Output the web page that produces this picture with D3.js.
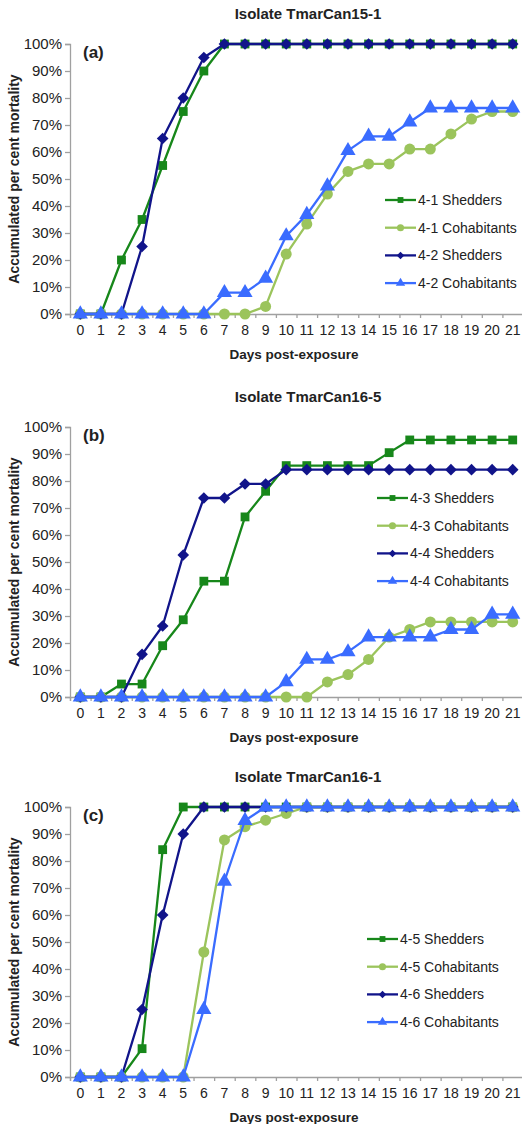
<!DOCTYPE html>
<html>
<head>
<meta charset="utf-8">
<script src="https://cdn.jsdelivr.net/npm/d3@7"></script>
<style>
  body { margin: 0; background: #fff; }
  text { font-family: "Liberation Sans", Arial, sans-serif; fill: #222; }
</style>
</head>
<body>
<div id="chart"></div>
<script>
// Days on the x axis (categories)
const days = ["0","1","2","3","4","5","6","7","8","9","10","11","12","13","14","15","16","17","18","19","20","21"];
const yTicks = [0, 10, 20, 30, 40, 50, 60, 70, 80, 90, 100];

const panelTitles = ["Isolate TmarCan15-1", "Isolate TmarCan16-5", "Isolate TmarCan16-1"];
const panelLetters = ["(a)", "(b)", "(c)"];

// Panel (a)
const namesA = ["4-1 Shedders", "4-1 Cohabitants", "4-2 Shedders", "4-2 Cohabitants"];
const shed41 = [0,0,20,35,55,75,90,100,100,100,100,100,100,100,100,100,100,100,100,100,100,100];
const cohab41 = [0,0,0,0,0,0,0,0,0,2.8,22.2,33.3,44.4,52.8,55.6,55.6,61.1,61.1,66.7,72.2,75,75];
const shed42 = [0,0,0,25,65,80,95,100,100,100,100,100,100,100,100,100,100,100,100,100,100,100];
const cohab42 = [0,0,0,0,0,0,0,7.9,7.9,13.2,28.9,36.8,47.4,60.5,65.8,65.8,71.1,76.3,76.3,76.3,76.3,76.3];

// Panel (b)
const namesB = ["4-3 Shedders", "4-3 Cohabitants", "4-4 Shedders", "4-4 Cohabitants"];
const shed43 = [0,0,4.8,4.8,19,28.6,42.9,42.9,66.7,76.2,85.7,85.7,85.7,85.7,85.7,90.5,95.2,95.2,95.2,95.2,95.2,95.2];
const cohab43 = [0,0,0,0,0,0,0,0,0,0,0,0,5.6,8.3,13.9,22.2,25,27.8,27.8,27.8,27.8,27.8];
const shed44 = [0,0,0,15.8,26.3,52.6,73.7,73.7,78.9,78.9,84.2,84.2,84.2,84.2,84.2,84.2,84.2,84.2,84.2,84.2,84.2,84.2];
const cohab44 = [0,0,0,0,0,0,0,0,0,0,5.6,13.9,13.9,16.7,22.2,22.2,22.2,22.2,25,25,30.6,30.6];

// Panel (c)
const namesC = ["4-5 Shedders", "4-5 Cohabitants", "4-6 Shedders", "4-6 Cohabitants"];
const shed45 = [0,0,0,10.5,84.2,100,100,100,100,100,100,100,100,100,100,100,100,100,100,100,100,100];
const cohab45 = [0,0,0,0,0,0,46.3,87.8,92.7,95.1,97.6,100,100,100,100,100,100,100,100,100,100,100];
const shed46 = [0,0,0,25,60,90,100,100,100,100,100,100,100,100,100,100,100,100,100,100,100,100];
const cohab46 = [0,0,0,0,0,0,25,72.5,95,100,100,100,100,100,100,100,100,100,100,100,100,100];

// Styles for the four series (same in every panel)
const seriesStyle = [
  { color: "#17871a", symbol: d3.symbolSquare, size: 78, rotate: 0, legendSize: 34 },
  { color: "#9bc45c", symbol: d3.symbolCircle, size: 95, rotate: 0, legendSize: 40 },
  { color: "#11148a", symbol: d3.symbolSquare, size: 68, rotate: 45, legendSize: 28 },
  { color: "#3a6cff", symbol: d3.symbolTriangle, size: 100, rotate: 0, legendSize: 38 }
];

const panels = [
  { title: panelTitles[0], letter: panelLetters[0], names: namesA, values: [shed41, cohab41, shed42, cohab42],
    top: 44, legend: { x: 385, y: 156 } },
  { title: panelTitles[1], letter: panelLetters[1], names: namesB, values: [shed43, cohab43, shed44, cohab44],
    top: 427, legend: { x: 377, y: 71 } },
  { title: panelTitles[2], letter: panelLetters[2], names: namesC, values: [shed45, cohab45, shed46, cohab46],
    top: 807, legend: { x: 367, y: 132 } }
];

const svg = d3.select("#chart").append("svg")
  .attr("width", 522)
  .attr("height", 1124);

const left = 70, right = 523, plotH = 270;
const axisColor = "#a0a0a0";

const x = d3.scaleBand().domain(days).range([left, right]);
const xEdge = d3.scaleLinear().domain([-0.5, days.length - 0.5]).range([left, right]);
const y = d3.scaleLinear().domain([0, 100]).range([plotH, 0]);

function drawPanel(p) {
  const g = svg.append("g").attr("transform", `translate(0,${p.top})`);

  // titles
  g.append("text")
    .attr("x", 308).attr("y", -25)
    .attr("text-anchor", "middle")
    .style("font-weight", "bold").style("font-size", "15px")
    .text(p.title);

  g.append("text")
    .attr("x", 83).attr("y", 14)
    .style("font-weight", "bold").style("font-size", "17px")
    .text(p.letter);

  g.append("text")
    .attr("transform", `translate(19,${plotH / 2}) rotate(-90)`)
    .attr("text-anchor", "middle")
    .style("font-weight", "bold").style("font-size", "14px")
    .text("Accumulated per cent mortality");

  g.append("text")
    .attr("x", 294).attr("y", plotH + 45)
    .attr("text-anchor", "middle")
    .style("font-weight", "bold").style("font-size", "13.5px")
    .text("Days post-exposure");

  // y axis (font set after the call, the axis resets it)
  g.append("g")
    .attr("transform", `translate(${left},0)`)
    .call(d3.axisLeft(y).tickValues(yTicks).tickSize(5).tickPadding(3).tickFormat(d => d + "%"))
    .attr("font-size", 15)
    .attr("font-family", "Liberation Sans, Arial, sans-serif");

  // x axis: tick marks between days, labels at centers
  g.append("g")
    .attr("transform", `translate(0,${plotH})`)
    .call(d3.axisBottom(xEdge).tickValues(d3.range(-0.5, days.length, 1)).tickSize(4).tickFormat(""));
  const xLab = g.append("g")
    .attr("transform", `translate(0,${plotH})`)
    .call(d3.axisBottom(x).tickSize(0).tickPadding(11))
    .attr("font-size", 14)
    .attr("font-family", "Liberation Sans, Arial, sans-serif");
  xLab.select(".domain").remove();

  g.selectAll(".domain, .tick line").attr("stroke", axisColor).attr("stroke-width", 1.3);
  g.selectAll(".tick text").attr("fill", "#222");

  const line = d3.line()
    .x((d, i) => x(days[i]) + x.bandwidth() / 2)
    .y(d => y(d));

  // series, in drawing order
  p.values.forEach((vals, si) => {
    const st = seriesStyle[si];
    g.append("path")
      .datum(vals)
      .attr("fill", "none")
      .attr("stroke", st.color)
      .attr("stroke-width", 2.3)
      .attr("stroke-linejoin", "round")
      .attr("d", line);
    g.append("g").selectAll("path")
      .data(vals)
      .join("path")
      .attr("d", d3.symbol(st.symbol, st.size))
      .attr("fill", st.color)
      .attr("transform", (d, i) =>
        `translate(${x(days[i]) + x.bandwidth() / 2},${y(d)}) rotate(${st.rotate})`);
  });

  // legend
  const lg = g.append("g").attr("transform", `translate(${p.legend.x},${p.legend.y})`);
  p.names.forEach((name, si) => {
    const st = seriesStyle[si];
    const row = lg.append("g").attr("transform", `translate(0,${si * 27.7})`);
    row.append("line")
      .attr("x1", 0).attr("x2", 31)
      .attr("stroke", st.color).attr("stroke-width", 2.3);
    row.append("path")
      .attr("d", d3.symbol(st.symbol, st.legendSize))
      .attr("fill", st.color)
      .attr("transform", `translate(15.5,0) rotate(${st.rotate})`);
    row.append("text")
      .attr("x", 33).attr("dy", "0.35em")
      .style("font-size", "14px")
      .text(name);
  });
}

panels.forEach(drawPanel);
</script>
</body>
</html>
